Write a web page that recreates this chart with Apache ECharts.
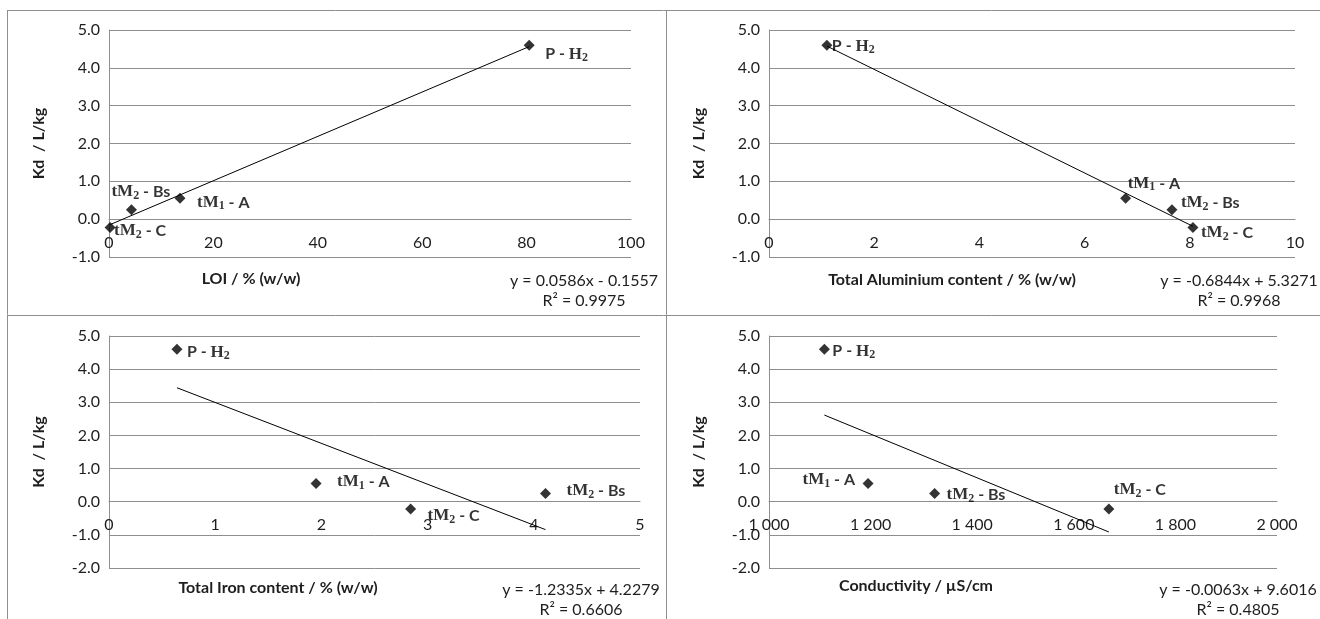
<!DOCTYPE html>
<html>
<head>
<meta charset="utf-8">
<script src="https://cdn.jsdelivr.net/npm/echarts@6/dist/echarts.min.js"></script>
<style>
  html, body { margin: 0; padding: 0; background: #ffffff; }
  #chart { width: 1320px; height: 619px; }
</style>
</head>
<body>
<div id="chart"></div>
<script>
// Distribution coefficient Kd of four soil horizons against four soil properties.
const samples = ['P - H_2', 'tM_1 - A', 'tM_2 - Bs', 'tM_2 - C'];
const kd = [4.60, 0.55, 0.25, -0.22];

const loi = [80.5, 13.6, 4.3, 0.2];
const aluminium = [1.10, 6.78, 7.66, 8.06];
const iron = [0.64, 1.95, 4.11, 2.84];
const conductivity = [1109, 1195, 1326, 1669];

const xTitles = ['LOI / % (w/w)', 'Total Aluminium content / % (w/w)', 'Total Iron content / % (w/w)', 'Conductivity / \u00b5S/cm'];
const yTitle = 'Kd  / L/kg';

// Linear trend lines: y = slope * x + intercept
const slopes = [0.0586, -0.6844, -1.2335, -0.0063];
const intercepts = [-0.1557, 5.3271, 4.2279, 9.6016];
const rSquared = [0.9975, 0.9968, 0.6606, 0.4805];

// Axis ranges
const xMin = [0, 0, 0, 1000];
const xMax = [100, 10, 5, 2000];
const xStep = [20, 2, 1, 200];
const yMin = [-1, -1, -2, -2];
const yMax = [5, 5, 5, 5];
const yStep = [1, 1, 1, 1];

const xValues = [loi, aluminium, iron, conductivity];

// ---- layout and styling ----
const FONT = 'Lato';
const SERIF = 'Liberation Serif';
const TEXT = '#1e1e1e';
const GRIDC = '#8e8e8e';
const BORDER = '#8e8e8e';

const layout = [
  { left: 109, top: 30,  width: 522, height: 227, titleX: 251, titleY: 279, eqX: 584,  eqY: 291, labMargin: 16 },
  { left: 769, top: 30,  width: 526, height: 227, titleX: 952, titleY: 280, eqX: 1239, eqY: 291, labMargin: 16 },
  { left: 109, top: 336, width: 531, height: 232, titleX: 278, titleY: 588, eqX: 581,  eqY: 600, labMargin: 15 },
  { left: 769, top: 336, width: 508, height: 232, titleX: 916, titleY: 586, eqX: 1238, eqY: 600, labMargin: 15 }
];

// point label placement per panel: [dx, dy, align]
const labelPlace = [
  [[16, 9, 'left'], [17, 4, 'left'], [-20, -18, 'left'], [4, 3, 'left']],
  [[5, 1, 'left'], [2, -15, 'left'], [9, -7, 'left'], [8, 5, 'left']],
  [[10, 3, 'left'], [21, -2, 'left'], [21, -3, 'left'], [17, 7, 'left']],
  [[8, 2, 'left'], [-13, -4, 'right'], [12, 1, 'left'], [5, -19, 'left']]
];

function richName(name) {
  // "tM_2 - Bs" -> serif letters with a subscript digit, the rest in sans bold
  return name.replace(/([A-Za-z]+)_(\d)/g, '{s|$1}{b|$2}');
}

function thousands(v) {
  return String(v).replace(/\B(?=(\d{3})+(?!\d))/g, ' ');
}

function fmtCoef(v) {
  return v.toFixed(4);
}

const grids = [], xAxes = [], yAxes = [], series = [], graphics = [];

for (let i = 0; i < 4; i++) {
  const L = layout[i];
  grids.push({ left: L.left, top: L.top, width: L.width, height: L.height, containLabel: false, outerBoundsMode: 'none' });

  // the horizontal axis crosses the vertical one at Kd = 0
  const zeroShift = -L.height * (0 - yMin[i]) / (yMax[i] - yMin[i]);

  xAxes.push({
    type: 'value', gridIndex: i, min: xMin[i], max: xMax[i], interval: xStep[i],
    position: 'bottom', offset: zeroShift,
    axisLine: { show: true, onZero: false, lineStyle: { color: GRIDC, width: 1 } },
    axisTick: { show: false },
    splitLine: { show: false },
    axisLabel: {
      margin: L.labMargin, color: TEXT, fontFamily: FONT, fontSize: 16,
      showMinLabel: true, showMaxLabel: true, hideOverlap: false,
      formatter: i === 3 ? (v) => thousands(v) : (v) => String(v)
    }
  });

  yAxes.push({
    type: 'value', gridIndex: i, min: yMin[i], max: yMax[i], interval: yStep[i],
    name: yTitle, nameLocation: 'middle', nameGap: 62, nameRotate: 90,
    nameTextStyle: { fontFamily: FONT, fontWeight: 'bold', fontSize: 16, color: TEXT },
    axisLine: { show: true, onZero: false, lineStyle: { color: GRIDC, width: 1 } },
    axisTick: { show: false },
    splitLine: { show: true, lineStyle: { color: GRIDC, width: 1 } },
    axisLabel: {
      margin: 9, color: TEXT, fontFamily: FONT, fontSize: 16,
      showMinLabel: true, showMaxLabel: true, hideOverlap: false,
      formatter: (v) => v.toFixed(1)
    }
  });

  const xs = xValues[i];
  const pts = xs.map((x, j) => {
    const p = labelPlace[i][j];
    return {
      value: [x, kd[j]],
      label: {
        show: true, position: 'inside', offset: [p[0], p[1]],
        align: p[2], verticalAlign: 'middle',
        formatter: richName(samples[j]),
        color: '#000', fontFamily: FONT, fontWeight: 'bold', fontSize: 16, lineHeight: 20,
        textBorderWidth: 0,
        rich: {
          s: { fontFamily: SERIF, fontWeight: 'bold', fontSize: 17, color: '#000', lineHeight: 20 },
          b: { fontFamily: SERIF, fontWeight: 'bold', fontSize: 12, color: '#000', lineHeight: 12, verticalAlign: 'bottom' }
        }
      }
    };
  });

  const lo = Math.min(...xs), hi = Math.max(...xs);
  series.push({
    type: 'line', xAxisIndex: i, yAxisIndex: i, symbol: 'none', silent: true,
    lineStyle: { color: '#000', width: 1 },
    data: [[lo, slopes[i] * lo + intercepts[i]], [hi, slopes[i] * hi + intercepts[i]]],
    z: 2
  });
  series.push({
    type: 'scatter', xAxisIndex: i, yAxisIndex: i, symbol: 'diamond', symbolSize: 11,
    itemStyle: { color: '#000' },
    data: pts,
    z: 3
  });

  graphics.push({
    type: 'text', x: L.titleX, y: L.titleY, silent: true,
    style: { text: xTitles[i], fontFamily: FONT, fontWeight: 'bold', fontSize: 16, fill: TEXT, align: 'center', verticalAlign: 'middle' }
  });
  const b = intercepts[i];
  const eq = 'y = ' + fmtCoef(slopes[i]) + 'x ' + (b < 0 ? '- ' : '+ ') + fmtCoef(Math.abs(b));
  graphics.push({
    type: 'text', x: L.eqX, y: L.eqY, silent: true,
    style: { text: eq + '\nR\u00b2 = ' + rSquared[i].toFixed(4), fontFamily: FONT, fontSize: 16, lineHeight: 20, fill: TEXT, align: 'center', verticalAlign: 'middle' }
  });
}

// frames around the four charts
const frame = [
  [7, 10.5, 1320, 10.5],
  [7, 315.5, 1320, 315.5],
  [7.5, 10, 7.5, 619],
  [666.5, 10, 666.5, 619]
];
frame.forEach(f => graphics.push({
  type: 'line', silent: true,
  shape: { x1: f[0], y1: f[1], x2: f[2], y2: f[3] },
  style: { stroke: BORDER, lineWidth: 1 }
}));

const chart = echarts.init(document.getElementById('chart'), null, { renderer: 'canvas' });
chart.setOption({
  animation: false,
  backgroundColor: '#ffffff',
  grid: grids,
  xAxis: xAxes,
  yAxis: yAxes,
  series: series,
  graphic: graphics
});
</script>
</body>
</html>
